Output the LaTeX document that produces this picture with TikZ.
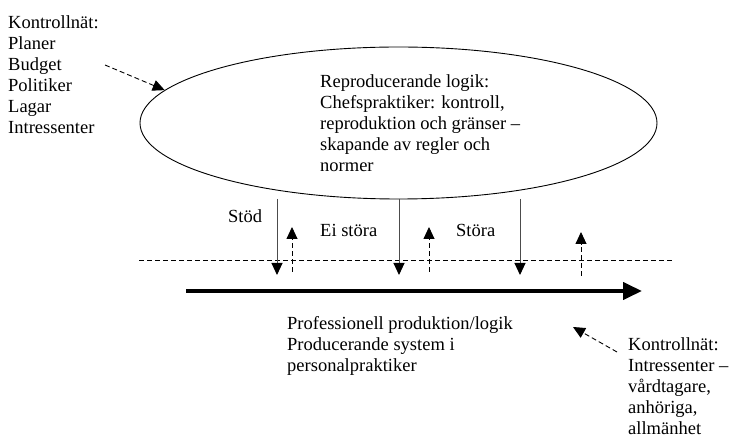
\documentclass[tikz,border=0pt]{standalone}
\usepackage{fontspec}
\setmainfont{Liberation Serif}
\usetikzlibrary{arrows.meta,shapes.geometric}
\begin{document}
\begin{tikzpicture}[x=1pt,y=-1pt,
  txt/.style={anchor=north west,inner sep=0pt,align=left,font=\fontsize{18.5}{21}\selectfont},
  lbl/.style={anchor=base west,inner sep=0pt,font=\fontsize{18.5}{21}\selectfont},
  dsh/.style={dash pattern=on 5pt off 3pt,line width=0.9pt},
  tipS/.style={-{Triangle[length=12pt,width=11pt,color=black]}},
  down/.style={tipS,line width=1pt,draw=black!70},
  up/.style={tipS,dsh,draw=black}]
\useasboundingbox (0,0) rectangle (730,435);
% left text
\node[txt] (ctrlA) at (8,15.4) {Kontrollnät:\\Planer\\Budget\\Politiker\\Lagar\\Intressenter};
% ellipse
\node[ellipse,draw,line width=0.9pt,minimum width=517pt,minimum height=152pt,inner sep=0pt] (ell) at (398.5,123) {};
\node[txt] (ellT) at (320,74.4) {Reproducerande logik:\\Chefspraktiker: kontroll,\\reproduktion och gränser –\\skapande av regler och\\normer};
\coordinate (t1) at (105,65);
\draw[tipS,dsh] (t1) -- (ell.172.8);
% dashed horizontal line
\coordinate (hl) at (139,260);
\coordinate (hr) at (673,260);
\draw[dsh] (hl) -- (hr);
% solid down arrows
\coordinate (d1a) at (277,199); \coordinate (d1b) at (277,275);
\coordinate (d2a) at (399,199); \coordinate (d2b) at (399,275);
\coordinate (d3a) at (520,199); \coordinate (d3b) at (520,275);
\draw[down] (d1a) -- (d1b);
\draw[down] (d2a) -- (d2b);
\draw[down] (d3a) -- (d3b);
% dashed up arrows
\coordinate (u1a) at (292,272); \coordinate (u1b) at (292,227);
\coordinate (u2a) at (429,272); \coordinate (u2b) at (429,227);
\coordinate (u3a) at (581,276); \coordinate (u3b) at (581,232);
\draw[up] (u1a) -- (u1b);
\draw[up] (u2a) -- (u2b);
\draw[up] (u3a) -- (u3b);
% labels
\node[lbl] (stod) at (228,223) {Stöd};
\node[lbl] (ei) at (320,237) {Ei störa};
\node[lbl] (stora) at (456,237) {Störa};
% thick arrow
\coordinate (pa) at (186,291);
\coordinate (pb) at (642,291);
\draw[line width=4pt,-{Triangle[length=19pt,width=17pt]}] (pa) -- (pb);
% bottom text
\node[txt] (prod) at (287,316.4) {Professionell produktion/logik\\Producerande system i\\personalpraktiker};
\node[txt] (ctrlB) at (628,337.4) {Kontrollnät:\\Intressenter –\\vårdtagare,\\anhöriga,\\allmänhet};
\coordinate (t2) at (617,352);
\coordinate (t3) at (573,327);
\draw[tipS,dsh] (t2) -- (t3);
\end{tikzpicture}
\end{document}
